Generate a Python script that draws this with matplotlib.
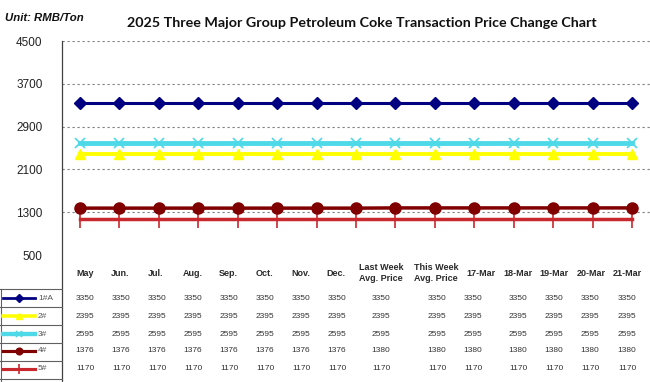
import matplotlib.pyplot as plt

categories = ["May", "Jun.", "Jul.", "Aug.", "Sep.", "Oct.", "Nov.", "Dec.",
              "Last Week\nAvg. Price", "This Week\nAvg. Price",
              "17-Mar", "18-Mar", "19-Mar", "20-Mar", "21-Mar"]

grade_1a = [3350, 3350, 3350, 3350, 3350, 3350, 3350, 3350, 3350, 3350, 3350, 3350, 3350, 3350, 3350]
grade_2 = [2395, 2395, 2395, 2395, 2395, 2395, 2395, 2395, 2395, 2395, 2395, 2395, 2395, 2395, 2395]
grade_3 = [2595, 2595, 2595, 2595, 2595, 2595, 2595, 2595, 2595, 2595, 2595, 2595, 2595, 2595, 2595]
grade_4 = [1376, 1376, 1376, 1376, 1376, 1376, 1376, 1376, 1380, 1380, 1380, 1380, 1380, 1380, 1380]
grade_5 = [1170, 1170, 1170, 1170, 1170, 1170, 1170, 1170, 1170, 1170, 1170, 1170, 1170, 1170, 1170]

series_names = ["1#A", "2#", "3#", "4#", "5#"]
yticks = [500, 1300, 2100, 2900, 3700, 4500]

plt.rcParams['font.family'] = ['Liberation Sans', 'DejaVu Sans']

W, H = 650, 382
fig = plt.figure(figsize=(W / 100, H / 100), dpi=100)
ax = fig.add_axes([62 / W, (H - 255) / H, 588 / W, 214 / H])

x = list(range(len(categories)))

styles = [
    dict(color="#000080", lw=2.2, marker="D", ms=6.5, zorder=6),
    dict(color="#FFFF00", lw=2.8, marker="^", ms=7.5, zorder=4),
    dict(color="#4DD9E8", lw=3.5, marker="x", ms=7, mew=1.2, zorder=5),
    dict(color="#800000", lw=2.5, marker="o", ms=8, zorder=7),
    dict(color="#C8282D", lw=2.5, marker="|", ms=13, mew=1.2, zorder=6),
]
all_series = [grade_1a, grade_2, grade_3, grade_4, grade_5]

for vals, st in zip(all_series, styles):
    ax.plot(x, vals, clip_on=False, **st)

ax.set_xlim(-0.45, 14.45)
ax.set_ylim(500, 4500)
ax.set_yticks(yticks)
ax.set_yticklabels([str(v) for v in yticks], fontsize=8.5, color="#222222")
ax.tick_params(axis='y', length=0, pad=14)
ax.set_xticks([])
for s in ax.spines.values():
    s.set_visible(False)

ax.yaxis.grid(True, color="#7f7f7f", linestyle=(0, (2, 2.5)), linewidth=0.8)
ax.yaxis.get_gridlines()[0].set_visible(False)
ax.set_axisbelow(True)

# left axis line running down through the table
ax.plot([0, 0], [1, -0.61], transform=ax.transAxes, color="#404040", lw=0.9, clip_on=False)

# data table (its columns do not line up with the chart points)
head_px = [85, 120, 156, 193, 228, 264, 301, 336, 381, 436, 481, 518, 554, 591, 627]
col_px = [85, 121, 157, 193, 229, 265, 301, 337, 381, 437, 473, 518, 554, 590, 627]
head_py = 273
row_py = [298, 316, 334, 351, 369]
for i, cat in enumerate(categories):
    fig.text(head_px[i] / W, 1 - head_py / H, cat, ha="center", va="center",
             fontsize=6.5, fontweight="bold", color="#2a2a2a", linespacing=1.35)
    for vals, ry in zip(all_series, row_py):
        fig.text(col_px[i] / W, 1 - ry / H, str(vals[i]), ha="center", va="center",
                 fontsize=6, color="#333333")

# legend cells
row_y = [(255 - r) / 214 for r in row_py]
borders = [-0.159, -0.243, -0.327, -0.411, -0.495, -0.579]
for b in borders:
    ax.plot([-0.1054, 0], [b, b], transform=ax.transAxes, color="#606060", lw=0.8, clip_on=False)
ax.plot([-0.1045, -0.1045], [borders[0], -0.61], transform=ax.transAxes, color="#606060", lw=0.8, clip_on=False)

for name, st, ry in zip(series_names, styles, row_y):
    kw = dict(st)
    kw["ms"] = kw["ms"] * 0.6
    kw["lw"] = kw["lw"] * 0.9
    ax.plot([-0.100, -0.046], [ry, ry], transform=ax.transAxes, clip_on=False,
            **{k: v for k, v in kw.items() if k != "marker"})
    ax.plot([-0.073], [ry], transform=ax.transAxes, clip_on=False, linestyle="none",
            **{k: v for k, v in kw.items() if k != "lw"})
    ax.text(-0.041, ry, name, transform=ax.transAxes, ha="left", va="center", fontsize=6, color="#555555")

fig.text(362 / W, 1 - 23 / H, "2025 Three Major Group Petroleum Coke Transaction Price Change Chart",
         ha="center", va="center", fontsize=10.3, fontweight="bold", family=["Lato", "DejaVu Sans"], color="#111111")
fig.text(5 / W, 1 - 18 / H, "Unit: RMB/Ton", ha="left", va="center", fontsize=8.2,
         fontweight="bold", style="italic", color="#111111")

fig.savefig("out.png", dpi=100)
